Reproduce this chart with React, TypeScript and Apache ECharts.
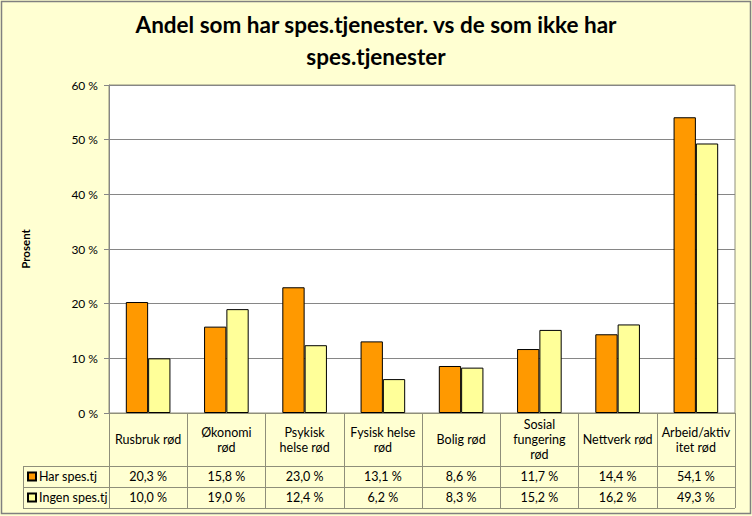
import React, { useEffect, useRef } from "react";
import * as echarts from "echarts";

const categories = [
  "Rusbruk rød",
  "Økonomi rød",
  "Psykisk helse rød",
  "Fysisk helse rød",
  "Bolig rød",
  "Sosial fungering rød",
  "Nettverk rød",
  "Arbeid/aktivitet rød",
];
const categoryLabels = [
  "Rusbruk rød",
  "Økonomi\nrød",
  "Psykisk\nhelse rød",
  "Fysisk helse\nrød",
  "Bolig rød",
  "Sosial\nfungering\nrød",
  "Nettverk rød",
  "Arbeid/aktiv\nitet rød",
];
const seriesNames = ["Har spes.tj", "Ingen spes.tj"];
const harValues = [20.3, 15.8, 23.0, 13.1, 8.6, 11.7, 14.4, 54.1];
const ingenValues = [10.0, 19.0, 12.4, 6.2, 8.3, 15.2, 16.2, 49.3];
const yTicks = { min: 0, max: 60, interval: 10 };

const fmt = (v: number) => v.toFixed(1).replace(".", ",") + " %";

const FONT = "Lato";
const BG = "#FFFFD2";
const TABLE_LINE = "#8f8f7a";
const GRID_LINE = "#868686";

export default function App() {
  const ref = useRef<HTMLDivElement>(null);
  useEffect(() => {
    document.body.style.margin = "0";
    if (!ref.current) return;
    const chart = echarts.init(ref.current, undefined, { renderer: "svg" });
    const plotLeft = 109;
    const plotTop = 85;
    const plotWidth = 626;
    const plotHeight = 328;
    const catRowH = 53;
    const valRowsH = 42;
    const legLeft = 23;

    const hiddenAxisParts = {
      axisLine: { show: false },
      axisTick: { show: false },
      axisLabel: { show: false },
    };

    chart.setOption({
      animation: false,
      backgroundColor: BG,
      textStyle: { fontFamily: FONT },
      title: {
        text: "Andel som har spes.tjenester. vs de som ikke har\nspes.tjenester",
        left: "center",
        top: 8,
        padding: 0,
        textStyle: {
          fontFamily: FONT,
          fontSize: 22.5,
          fontWeight: "bold",
          lineHeight: 32,
          color: "#000",
        },
      },
      legend: {
        orient: "vertical",
        left: 27,
        top: 470,
        padding: 0,
        itemWidth: 8,
        itemHeight: 8,
        itemGap: 8,
        icon: "rect",
        textStyle: { fontFamily: FONT, fontSize: 12.5, lineHeight: 13, color: "#000", padding: [0, 0, 0, -2] },
        data: seriesNames,
      },
      graphic: [
        {
          type: "rect",
          shape: { x: 1.5, y: 1.5, width: 749, height: 512 },
          style: { fill: "none", stroke: "#808080", lineWidth: 1.5 },
          silent: true,
        },
      ],
      grid: [
        {
          left: plotLeft,
          top: plotTop,
          width: plotWidth,
          height: plotHeight,
          show: true,
          backgroundColor: "#ffffff",
          borderColor: TABLE_LINE,
          borderWidth: 1,
          outerBoundsMode: "none",
          containLabel: false,
        },
        {
          left: plotLeft,
          top: plotTop + plotHeight,
          width: plotWidth,
          height: catRowH,
          outerBoundsMode: "none",
          containLabel: false,
        },
        {
          left: plotLeft,
          top: plotTop + plotHeight + catRowH,
          width: plotWidth,
          height: valRowsH,
          outerBoundsMode: "none",
          containLabel: false,
        },
        {
          left: legLeft,
          top: plotTop + plotHeight + catRowH,
          width: plotLeft - legLeft,
          height: valRowsH,
          outerBoundsMode: "none",
          containLabel: false,
        },
      ],
      xAxis: [
        {
          gridIndex: 0,
          type: "category",
          data: categories,
          axisLine: { show: true, lineStyle: { color: TABLE_LINE } },
          axisTick: { show: false },
          axisLabel: { show: false },
          splitLine: { show: false },
        },
        {
          gridIndex: 1,
          type: "category",
          position: "top",
          data: categoryLabels,
          axisLine: { show: true, lineStyle: { color: TABLE_LINE } },
          axisTick: { show: false },
          axisLabel: {
            interval: 0,
            margin: -catRowH / 2,
            verticalAlign: "middle",
            fontSize: 12.5,
            lineHeight: 15,
            color: "#000",
            fontFamily: FONT,
          },
          splitLine: { show: true, interval: 0, lineStyle: { color: TABLE_LINE } },
        },
        {
          gridIndex: 2,
          type: "category",
          position: "top",
          data: harValues.map(fmt),
          axisLine: { show: false },
          axisTick: { show: false },
          axisLabel: {
            interval: 0,
            margin: -valRowsH / 4,
            verticalAlign: "middle",
            fontSize: 12.5,
            color: "#000",
            fontFamily: FONT,
          },
          splitLine: { show: true, interval: 0, lineStyle: { color: TABLE_LINE } },
        },
        {
          gridIndex: 2,
          type: "category",
          position: "bottom",
          data: ingenValues.map(fmt),
          axisLine: { show: false },
          axisTick: { show: false },
          axisLabel: {
            interval: 0,
            margin: -valRowsH / 4,
            verticalAlign: "middle",
            fontSize: 12.5,
            color: "#000",
            fontFamily: FONT,
          },
          splitLine: { show: false },
        },
        {
          gridIndex: 3,
          type: "category",
          data: [""],
          ...hiddenAxisParts,
          splitLine: { show: true, interval: 0, lineStyle: { color: TABLE_LINE } },
        },
      ],
      yAxis: [
        {
          gridIndex: 0,
          type: "value",
          min: yTicks.min,
          max: yTicks.max,
          interval: yTicks.interval,
          name: "Prosent",
          nameLocation: "middle",
          nameGap: 78,
          nameTextStyle: { fontFamily: FONT, fontSize: 11.5, fontWeight: "bold", color: "#000" },
          axisLine: { show: true, lineStyle: { color: GRID_LINE } },
          axisTick: { show: true, length: 5, lineStyle: { color: GRID_LINE } },
          axisLabel: {
            formatter: "{value} %",
            fontSize: 12,
            color: "#000",
            margin: 11,
            fontFamily: FONT,
          },
          splitLine: { show: true, lineStyle: { color: GRID_LINE } },
        },
        {
          gridIndex: 1,
          type: "value",
          show: false,
        },
        {
          gridIndex: 2,
          type: "category",
          data: seriesNames,
          ...hiddenAxisParts,
          splitLine: { show: true, interval: 0, lineStyle: { color: TABLE_LINE } },
        },
        {
          gridIndex: 3,
          type: "category",
          data: seriesNames,
          ...hiddenAxisParts,
          splitLine: { show: true, interval: 0, lineStyle: { color: TABLE_LINE } },
        },
      ],
      series: [
        {
          name: seriesNames[0],
          type: "bar",
          xAxisIndex: 0,
          yAxisIndex: 0,
          data: harValues,
          barGap: "0%",
          barCategoryGap: "43%",
          itemStyle: { color: "#FF9900", borderColor: "#000", borderWidth: 1 },
        },
        {
          name: seriesNames[1],
          type: "bar",
          xAxisIndex: 0,
          yAxisIndex: 0,
          data: ingenValues,
          barGap: "0%",
          barCategoryGap: "43%",
          itemStyle: { color: "#FFFF99", borderColor: "#000", borderWidth: 1 },
        },
      ],
    });
    return () => chart.dispose();
  }, []);
  return <div ref={ref} style={{ width: 752, height: 516 }} />;
}
